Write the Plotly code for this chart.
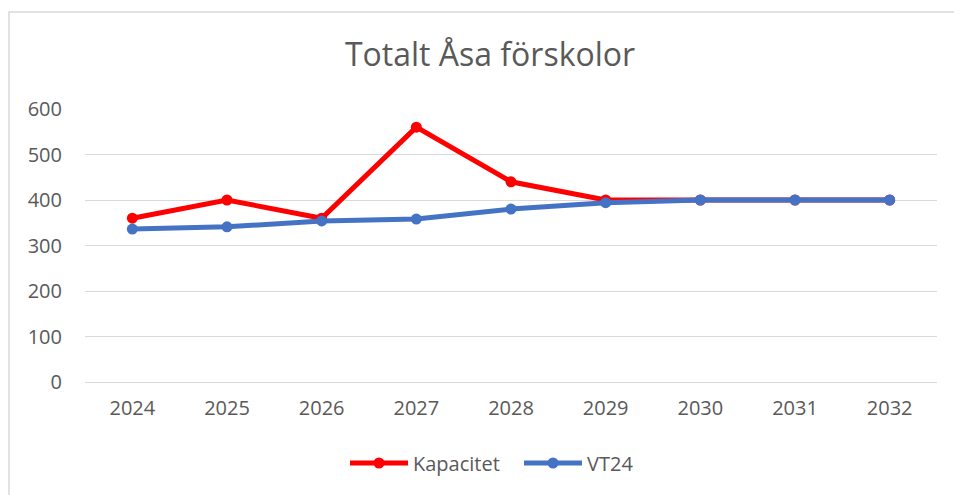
import plotly.graph_objects as go

years = ["2024", "2025", "2026", "2027", "2028", "2029", "2030", "2031", "2032"]
kapacitet = [360, 400, 360, 560, 440, 400, 400, 400, 400]
vt24 = [336, 341, 354, 358, 380, 394, 400, 400, 400]
y_ticks = [0, 100, 200, 300, 400, 500, 600]

W, H = 954, 495
L, R, T, B = 85, 17, 109, 113
pw, ph = W - L - R, H - T - B

def px2paper_x(px):
    return (px - L) / pw

def px2paper_y(py):
    return (H - B - py) / ph

font_family = "Open Sans, Noto Sans, sans-serif"
grey = "#595959"

fig = go.Figure()
fig.add_trace(go.Scatter(
    x=years, y=kapacitet, name="Kapacitet", mode="lines+markers",
    line=dict(color="#ff0000", width=5),
    marker=dict(color="#ff0000", size=11),
))
fig.add_trace(go.Scatter(
    x=years, y=vt24, name="VT24", mode="lines+markers",
    line=dict(color="#4472c4", width=5),
    marker=dict(color="#4472c4", size=11),
))

fig.update_layout(
    width=W, height=H,
    margin=dict(l=L, r=R, t=T, b=B, pad=0),
    paper_bgcolor="white", plot_bgcolor="white",
    font=dict(family=font_family, color=grey, size=20),
    title=dict(text="Totalt Åsa förskolor", x=px2paper_x(490), xref="paper",
               xanchor="center", y=1 - 55 / H, yanchor="middle",
               font=dict(size=32, color=grey, family=font_family)),
    showlegend=True,
    legend=dict(orientation="h", x=px2paper_x(345), xanchor="left",
                y=px2paper_y(463), yanchor="middle",
                font=dict(size=20, color=grey), itemwidth=58,
                entrywidth=101, entrywidthmode="pixels"),
    xaxis=dict(type="category", range=[-0.5, 8.5], showgrid=False,
               showline=False, ticks="", tickfont=dict(size=20, color=grey),
               ticklabelstandoff=12),
    yaxis=dict(range=[0, 600], tickvals=y_ticks, showgrid=True,
               gridcolor="#d9d9d9", gridwidth=1, zeroline=True,
               zerolinecolor="#d9d9d9", zerolinewidth=1, showline=False,
               ticks="", tickfont=dict(size=20, color=grey),
               ticklabelstandoff=22),
    shapes=[dict(type="rect", xref="paper", yref="paper",
                 x0=px2paper_x(9), x1=px2paper_x(1000),
                 y0=px2paper_y(600), y1=px2paper_y(12),
                 line=dict(color="#d9d9d9", width=1.5), layer="below")],
)

fig.write_html("out.html", config={"displayModeBar": False},
               post_script="document.body.style.margin='0';")
